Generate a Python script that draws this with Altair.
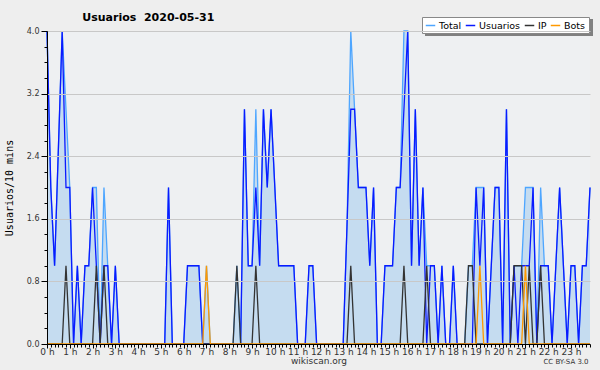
import json
import altair as alt
import pandas as pd

# 10-minute slots over the day (0 = 00:00, 143 = 23:50)
slots = list(range(144))

usuarios = [
    4, 2, 1, 2.5, 4, 2, 2, 0, 1, 0, 1, 1,
    2, 1, 0, 1, 1, 0, 1, 0, 0, 0, 0, 0,
    0, 0, 0, 0, 0, 0, 0, 0, 2, 0, 0, 0,
    0, 1, 1, 1, 1, 0, 0, 0, 0, 0, 0, 0,
    0, 0, 0, 0, 3, 1, 1, 2, 1, 3, 2, 3,
    2, 1, 1, 1, 1, 1, 0, 0, 0, 1, 1, 0,
    0, 0, 0, 0, 0, 0, 0, 1.5, 3, 3, 2, 2,
    2, 1, 2, 0, 0, 1, 1, 1, 2, 2, 3, 4,
    1, 3, 1, 2, 0, 1, 1, 0, 1, 0, 0, 1,
    0, 0, 0, 0, 0, 2, 1, 2, 0, 1, 2, 2,
    0, 3, 0, 1, 0, 1, 1, 1, 2, 0, 1, 1,
    1, 0, 1, 2, 1, 0, 1, 1, 0, 1, 1, 2,
]
ip = [
    0, 0, 0, 0, 0, 1, 0, 0, 0, 0, 0, 0,
    0, 1, 0, 1, 0, 0, 0, 0, 0, 0, 0, 0,
    0, 0, 0, 0, 0, 0, 0, 0, 0, 0, 0, 0,
    0, 0, 0, 0, 0, 0, 0, 0, 0, 0, 0, 0,
    0, 0, 1, 0, 0, 0, 0, 1, 0, 0, 0, 0,
    0, 0, 0, 0, 0, 0, 0, 0, 0, 0, 0, 0,
    0, 0, 0, 0, 0, 0, 0, 0, 1, 0, 0, 0,
    0, 0, 0, 0, 0, 0, 0, 0, 0, 0, 1, 0,
    0, 0, 0, 0, 1, 0, 0, 0, 0, 0, 0, 0,
    0, 0, 0, 1, 1, 0, 0, 0, 0, 0, 0, 0,
    0, 0, 0, 1, 1, 1, 0, 1, 0, 0, 1, 0,
    0, 0, 0, 0, 0, 0, 0, 0, 0, 0, 0, 0,
]
bots = [
    0, 0, 0, 0, 0, 0, 0, 0, 0, 0, 0, 0,
    0, 0, 0, 0, 0, 0, 0, 0, 0, 0, 0, 0,
    0, 0, 0, 0, 0, 0, 0, 0, 0, 0, 0, 0,
    0, 0, 0, 0, 0, 0, 1, 0, 0, 0, 0, 0,
    0, 0, 0, 0, 0, 0, 0, 0, 0, 0, 0, 0,
    0, 0, 0, 0, 0, 0, 0, 0, 0, 0, 0, 0,
    0, 0, 0, 0, 0, 0, 0, 0, 0, 0, 0, 0,
    0, 0, 0, 0, 0, 0, 0, 0, 0, 0, 0, 0,
    0, 0, 0, 0, 0, 0, 0, 0, 0, 0, 0, 0,
    0, 0, 0, 0, 0, 0, 1, 0, 0, 0, 0, 0,
    0, 0, 0, 0, 0, 0, 1, 0, 0, 0, 0, 0,
    0, 0, 0, 0, 0, 0, 0, 0, 0, 0, 0, 0,
]
total = [
    4, 2, 1, 2.5, 4, 3, 2, 0, 1, 0, 1, 1,
    2, 2, 0, 2, 1, 0, 1, 0, 0, 0, 0, 0,
    0, 0, 0, 0, 0, 0, 0, 0, 2, 0, 0, 0,
    0, 1, 1, 1, 1, 0, 1, 0, 0, 0, 0, 0,
    0, 0, 1, 0, 3, 1, 1, 3, 1, 3, 2, 3,
    2, 1, 1, 1, 1, 1, 0, 0, 0, 1, 1, 0,
    0, 0, 0, 0, 0, 0, 0, 1.5, 4, 3, 2, 2,
    2, 1, 2, 0, 0, 1, 1, 1, 2, 2, 4, 4,
    1, 3, 1, 2, 1, 1, 1, 0, 1, 0, 0, 1,
    0, 0, 0, 1, 1, 2, 2, 2, 0, 1, 2, 2,
    0, 3, 0, 1, 1, 1, 2, 2, 2, 0, 2, 1,
    1, 0, 1, 2, 1, 0, 1, 1, 0, 1, 1, 2,
]

series_names = ["Total", "Usuarios", "IP", "Bots"]
series_colors = ["#4ea6ff", "#0a1aff", "#333333", "#ff9900"]
hour_labels = [f"{h} h" for h in range(24)]
y_tick_values = [0.0, 0.2, 0.4, 0.6, 0.8, 1.0, 1.2, 1.4, 1.6, 1.8, 2.0,
                 2.2, 2.4, 2.6, 2.8, 3.0, 3.2, 3.4, 3.6, 3.8, 4.0]
footer_text = ["CC BY-SA 3.0"]

rows = []
for name, vals in zip(series_names, [total, usuarios, ip, bots]):
    for s, v in zip(slots, vals):
        rows.append({"slot": s, "value": v, "series": name})
df = pd.DataFrame(rows)

FONT = "DejaVu Sans"

x_enc = alt.X(
    "slot:Q",
    scale=alt.Scale(domain=[0, 143], nice=False, zero=False),
    axis=alt.Axis(
        values=slots,
        labelExpr="datum.value % 6 === 0 ? " + json.dumps(hour_labels) + "[datum.value / 6] : ''",
        labelOverlap=False,
        labelFlush=False,
        labelFontSize=9,
        labelFont=FONT,
        labelColor="#333333",
        labelPadding=-1,
        tickSize={"condition": {"test": "datum.value % 6 === 0", "value": 4}, "value": 3},
        tickColor="#000000",
        domainColor="#000000",
        grid=False,
        zindex=1,
        title="wikiscan.org",
        titleFont=FONT,
        titleFontSize=9,
        titleFontWeight="normal",
        titleColor="#333333",
        titlePadding=0,
    ),
)
y_enc = alt.Y(
    "value:Q",
    scale=alt.Scale(domain=[0, 4], nice=False),
    axis=alt.Axis(
        values=y_tick_values,
        labelExpr="round(datum.value * 5) % 4 === 0 ? format(datum.value, '.1f') : ''",
        labelOverlap=False,
        labelFlush=False,
        labelFontSize=8,
        labelFont=FONT,
        labelColor="#333333",
        labelPadding=2,
        tickSize={"condition": {"test": "round(datum.value * 5) % 4 === 0", "value": 6}, "value": 3},
        tickColor="#000000",
        domainColor="#000000",
        grid=True,
        zindex=1,
        gridColor="#c8c8c8",
        gridOpacity={"condition": {"test": "round(datum.value * 5) % 4 === 0 && datum.value > 0", "value": 1}, "value": 0},
        title="Usuarios/10 mins",
        titleFont="DejaVu Sans Mono",
        titleFontSize=10,
        titleFontWeight="normal",
        titleColor="#000000",
        titlePadding=12,
    ),
)

base = alt.Chart(df)

area = base.transform_filter(alt.datum.series == "Total").mark_area(
    color="#c5dcf0", opacity=1, interpolate="linear"
).encode(x=x_enc, y=y_enc)

color_enc = alt.Color(
    "series:N",
    scale=alt.Scale(domain=series_names, range=series_colors),
    legend=alt.Legend(
        title=None,
        orient="none",
        legendX=375,
        legendY=-14,
        direction="horizontal",
        symbolType="stroke",
        symbolSize=90,
        symbolStrokeWidth=1.5,
        labelFont=FONT,
        labelFontSize=9.5,
        labelColor="#000000",
        labelOffset=3,
        columnPadding=0,
        fillColor="#ffffff",
        strokeColor="#888888",
        padding=3,
    ),
)

line_layers = []
for name in series_names:
    line_layers.append(
        base.transform_filter(alt.datum.series == name)
        .mark_line(strokeWidth=1.3, interpolate="linear")
        .encode(x=x_enc, y=y_enc, color=color_enc)
    )

# drop shadow behind the legend box (decoration)
legend_shadow = alt.Chart(pd.DataFrame({"k": [0]})).mark_rect(
    color="#808080"
).encode(
    x=alt.value(378), x2=alt.value(546), y=alt.value(-12), y2=alt.value(5)
)

footer = alt.Chart(pd.DataFrame({"t": footer_text})).mark_text(
    font=FONT, fontSize=7, color="#333333", align="center", baseline="middle"
).encode(text="t:N", x=alt.value(519), y=alt.value(331))

chart = alt.layer(area, *line_layers, legend_shadow, footer).properties(
    width=543,
    height=313,
    title=alt.TitleParams(
        "Usuarios\u00a0\u00a02020-05-31",
        anchor="start",
        dx=78,
        dy=16,
        font=FONT,
        fontSize=11,
        fontWeight="bold",
        color="#000000",
        offset=10,
    ),
    autosize=alt.AutoSizeParams(type="none"),
    padding={"left": 47, "top": 31, "right": 10, "bottom": 26},
    background="#eeeeee",
).configure_view(fill="#eef0f2", stroke=None)

chart.save("out.html", embed_options={"renderer": "svg", "actions": False})
